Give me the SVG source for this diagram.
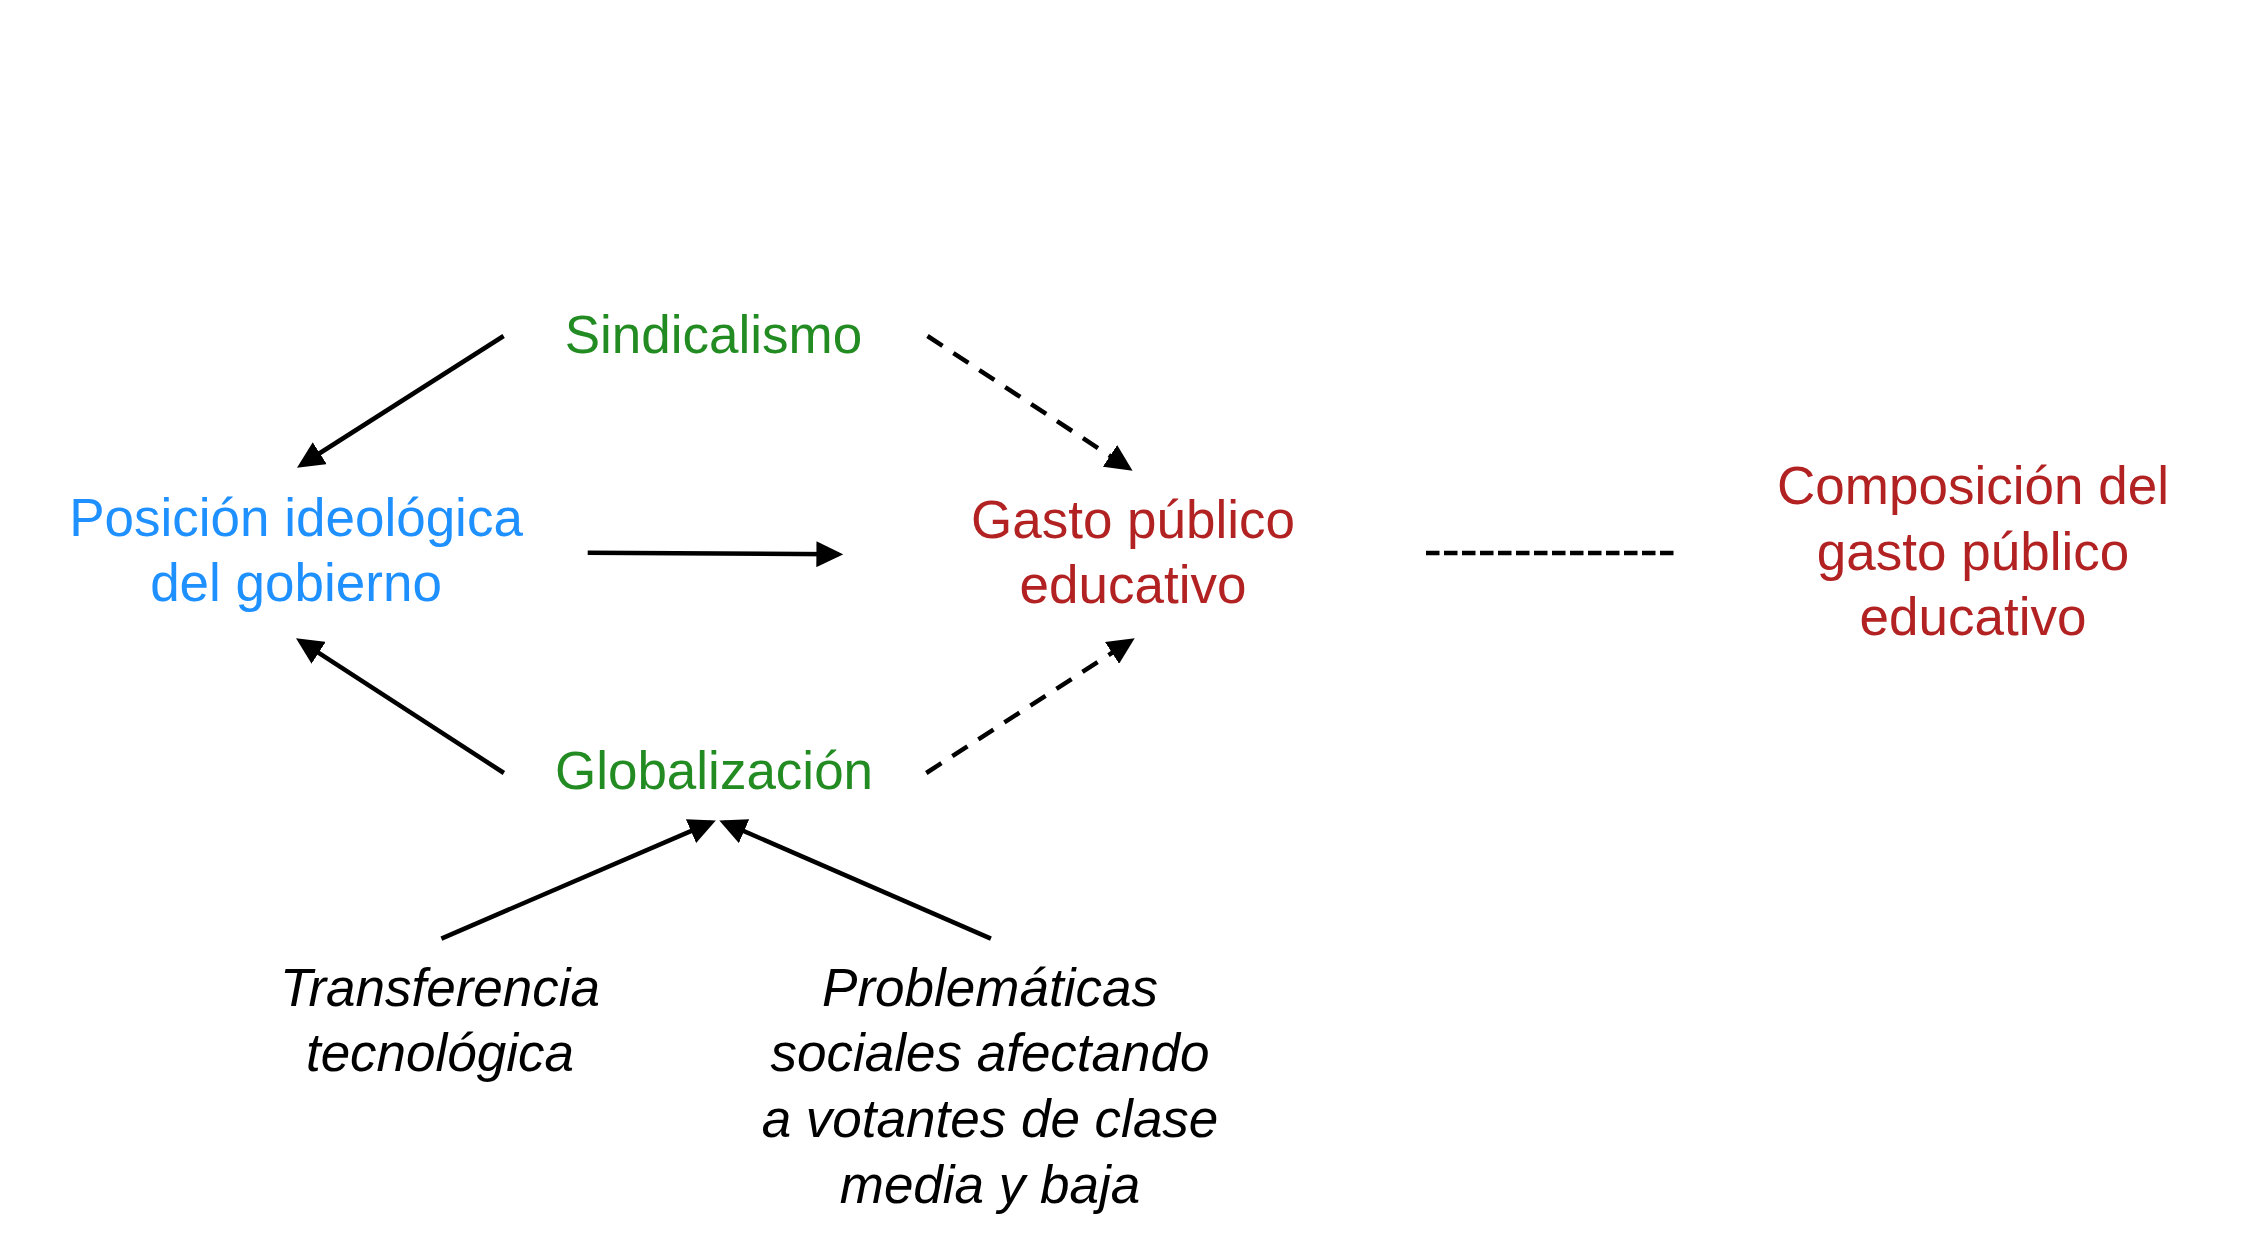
<svg xmlns="http://www.w3.org/2000/svg" width="2268" height="1255" viewBox="0 0 2268 1255">
<style>
.t{font-family:"Liberation Sans",Arial,sans-serif;font-size:53px;text-anchor:middle}
.g{fill:#228B22}.b{fill:#1E90FF}.r{fill:#B22222}.k{fill:#000;font-style:italic}
.ln{stroke:#000;stroke-width:4.5;fill:none}
.ds{stroke-dasharray:18 13}
.hd{stroke-dasharray:13.5 4.5}
</style>
<defs>
<marker id="ah" viewBox="0 0 27 26" refX="22" refY="13" markerWidth="27" markerHeight="26" markerUnits="userSpaceOnUse" orient="auto">
<path d="M0,0 L27,13 L0,26 Z" fill="#000"/>
</marker>
</defs>
<rect width="2268" height="1255" fill="#fff"/>
<g id="connectors">
<line class="ln" x1="503.6" y1="336" x2="301.2" y2="465" marker-end="url(#ah)"/>
<line class="ln ds" x1="927.5" y1="336" x2="1128.4" y2="468" marker-end="url(#ah)"/>
<line class="ln" x1="587.7" y1="552.7" x2="838.4" y2="554.3" marker-end="url(#ah)"/>
<line class="ln" x1="503.9" y1="773" x2="300.2" y2="640.9" marker-end="url(#ah)"/>
<line class="ln ds" x1="926.3" y1="773" x2="1130.5" y2="640.9" marker-end="url(#ah)"/>
<line class="ln" x1="441.4" y1="938.6" x2="711.2" y2="822.4" marker-end="url(#ah)"/>
<line class="ln" x1="990.9" y1="938.6" x2="723.9" y2="822.4" marker-end="url(#ah)"/>
<line class="ln hd" x1="1426" y1="553" x2="1678" y2="553"/>
</g>
<g id="sindicalismo"><text class="t g" x="713.5" y="353">Sindicalismo</text></g>
<g id="posicion"><text class="t b" x="296" y="536">Posición ideológica</text><text class="t b" x="296" y="601">del gobierno</text></g>
<g id="gasto"><text class="t r" x="1133" y="538">Gasto público</text><text class="t r" x="1133" y="603">educativo</text></g>
<g id="composicion"><text class="t r" x="1973" y="504">Composición del</text><text class="t r" x="1973" y="570">gasto público</text><text class="t r" x="1973" y="635">educativo</text></g>
<g id="globalizacion"><text class="t g" x="714" y="789">Globalización</text></g>
<g id="transferencia"><text class="t k" x="440" y="1006">Transferencia</text><text class="t k" x="440" y="1071">tecnológica</text></g>
<g id="problematicas"><text class="t k" x="990" y="1006">Problemáticas</text><text class="t k" x="990" y="1071">sociales afectando</text><text class="t k" x="990" y="1137">a votantes de clase</text><text class="t k" x="990" y="1203">media y baja</text></g>
</svg>
